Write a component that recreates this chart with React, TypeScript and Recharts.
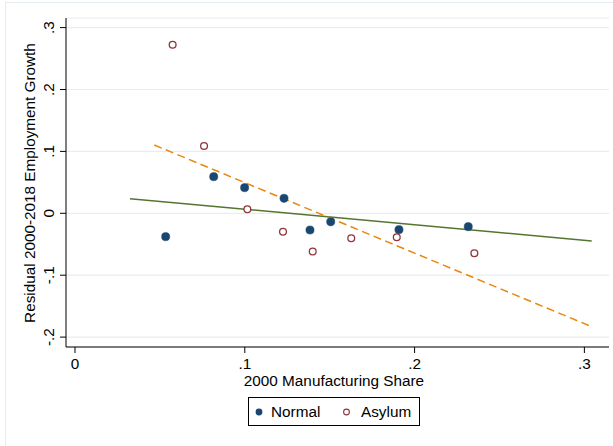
import React from "react";
import {
  ComposedChart,
  Scatter,
  Line,
  XAxis,
  YAxis,
  CartesianGrid,
} from "recharts";

// ---- data ----
const normalX = [0.0534, 0.0817, 0.0999, 0.1231, 0.1384, 0.1506, 0.1908, 0.2316];
const normalY = [-0.0378, 0.0591, 0.0414, 0.0242, -0.027, -0.0137, -0.0265, -0.0216];

const asylumX = [0.0575, 0.076, 0.1015, 0.1225, 0.14, 0.1627, 0.1895, 0.2352];
const asylumY = [0.2724, 0.1087, 0.0065, -0.0297, -0.0617, -0.0404, -0.0388, -0.0646];

const normalFitX = [0.0324, 0.3043];
const normalFitY = [0.0236, -0.0447];

const asylumFitX = [0.0467, 0.3043];
const asylumFitY = [0.1103, -0.1832];

const xTicks = [0, 0.1, 0.2, 0.3];
const yTicks = [-0.2, -0.1, 0, 0.1, 0.2, 0.3];

const xTitle = "2000 Manufacturing Share";
const yTitle = "Residual 2000-2018 Employment Growth";
const legendLabels = ["Normal", "Asylum"];

// ---- styling ----
const FONT = "'Liberation Sans', Arial, sans-serif";
const FS = 15.3;
const NAVY = "#1a476f";
const MAROON = "#90353b";
const GREEN = "#55752f";
const ORANGE = "#e8870e";
const GRID = "#e6eef1";

const zip = (xs: number[], ys: number[]) => xs.map((x, i) => ({ x, y: ys[i] }));

const normalData = zip(normalX, normalY);
const asylumData = zip(asylumX, asylumY);
const normalFit = zip(normalFitX, normalFitY);
const asylumFit = zip(asylumFitX, asylumFitY);

const fmt = (v: number) => {
  if (Math.abs(v) < 1e-9) return "0";
  const s = Math.abs(v).toFixed(1).replace(/^0/, "");
  return (v < 0 ? "-" : "") + s;
};

const XTick = (props: any) => {
  const { x, payload } = props;
  return (
    <text x={x} y={369} textAnchor="middle" fontFamily={FONT} fontSize={FS} fill="#000">
      {fmt(payload.value)}
    </text>
  );
};

const YTick = (props: any) => {
  const { y, payload } = props;
  const bx = 54.5;
  return (
    <text
      x={bx}
      y={y}
      transform={`rotate(-90 ${bx} ${y})`}
      textAnchor="middle"
      fontFamily={FONT}
      fontSize={FS}
      fill="#000"
    >
      {fmt(payload.value)}
    </text>
  );
};

const FilledDot = (p: any) => <circle cx={p.cx} cy={p.cy} r={4.1} fill={NAVY} stroke={NAVY} strokeWidth={0.5} />;
const HollowDot = (p: any) => (
  <circle cx={p.cx} cy={p.cy} r={3.4} fill="#fff" stroke={MAROON} strokeWidth={1.3} />
);

export default function App() {
  return (
    <div style={{ position: "absolute", left: 0, top: 0, width: 613, height: 446, background: "#fff" }}>
      <div
        style={{
          position: "absolute",
          left: 5,
          top: 2,
          width: 608,
          height: 444,
          borderTop: "1px solid #e6edf0",
          borderLeft: "1px solid #e6edf0",
          boxSizing: "border-box",
        }}
      />
      <div style={{ position: "absolute", left: 0, top: 0 }}>
        <ComposedChart
          width={613}
          height={446}
          margin={{ top: 18, right: 4, bottom: 0, left: 0 }}
        >
          <CartesianGrid horizontal vertical={false} stroke={GRID} strokeWidth={1.2} />
          <XAxis
            type="number"
            dataKey="x"
            domain={[-0.0053, 0.3145]}
            ticks={xTicks}
            allowDataOverflow
            height={99}
            tickSize={6}
            tick={<XTick />}
            stroke="#000"
            axisLine={{ stroke: "#000", strokeWidth: 1 }}
            tickLine={{ stroke: "#000" }}
            label={{
              content: () => (
                <text x={334} y={386} textAnchor="middle" fontFamily={FONT} fontSize={FS} fill="#000">
                  {xTitle}
                </text>
              ),
            }}
          />
          <YAxis
            type="number"
            dataKey="y"
            domain={[-0.216, 0.3155]}
            ticks={yTicks}
            allowDataOverflow
            width={66}
            tickSize={6}
            tick={<YTick />}
            stroke="#000"
            axisLine={{ stroke: "#000", strokeWidth: 1 }}
            tickLine={{ stroke: "#000" }}
            label={{
              content: () => (
                <text
                  x={35}
                  y={183}
                  transform="rotate(-90 35 183)"
                  textAnchor="middle"
                  fontFamily={FONT}
                  fontSize={FS}
                  fill="#000"
                >
                  {yTitle}
                </text>
              ),
            }}
          />
          <Scatter data={normalData} dataKey="y" shape={<FilledDot />} isAnimationActive={false} />
          <Scatter data={asylumData} dataKey="y" shape={<HollowDot />} isAnimationActive={false} />
          <Line
            data={normalFit}
            dataKey="y"
            type="linear"
            stroke={GREEN}
            strokeWidth={1.5}
            dot={false}
            activeDot={false}
            isAnimationActive={false}
          />
          <Line
            data={asylumFit}
            dataKey="y"
            type="linear"
            stroke={ORANGE}
            strokeWidth={1.5}
            strokeDasharray="8 4.5"
            dot={false}
            activeDot={false}
            isAnimationActive={false}
          />
        </ComposedChart>
      </div>
      <svg
        width={173}
        height={30}
        style={{ position: "absolute", left: 247.5, top: 396.5 }}
      >
        <rect x={0.5} y={0.5} width={171} height={28} fill="#fff" stroke="#000" strokeWidth={1} />
        <circle cx={11} cy={15} r={3.4} fill={NAVY} />
        <text x={23} y={20.3} fontFamily={FONT} fontSize={FS} fill="#000">
          {legendLabels[0]}
        </text>
        <circle cx={98.5} cy={15} r={2.9} fill="#fff" stroke={MAROON} strokeWidth={1.1} />
        <text x={113} y={20.3} fontFamily={FONT} fontSize={FS} fill="#000">
          {legendLabels[1]}
        </text>
      </svg>
    </div>
  );
}
